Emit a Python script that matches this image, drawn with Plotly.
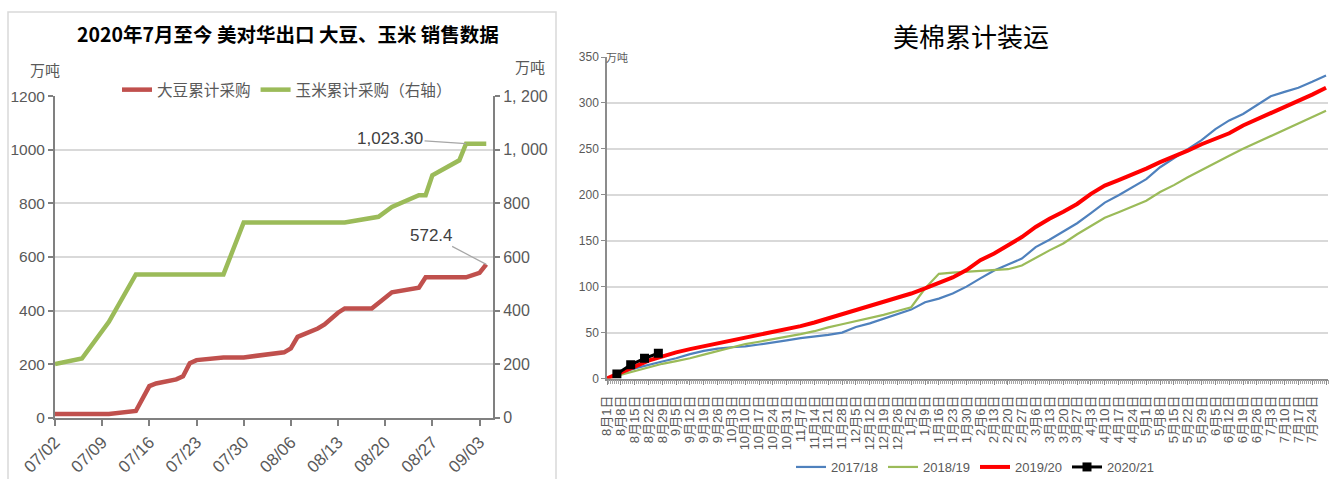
import datetime as dt
import plotly.graph_objects as go

# ---------------- Left panel: US soybean / corn sales to China since July 2020 ----------------
soy_dates = ["2020-07-02", "2020-07-10", "2020-07-14", "2020-07-16", "2020-07-17", "2020-07-20",
             "2020-07-21", "2020-07-22", "2020-07-23", "2020-07-27", "2020-07-30", "2020-08-05",
             "2020-08-06", "2020-08-07", "2020-08-10", "2020-08-11", "2020-08-13", "2020-08-14",
             "2020-08-18", "2020-08-21", "2020-08-25", "2020-08-26", "2020-09-01", "2020-09-03",
             "2020-09-04"]
soy_values = [13.7, 13.7, 25, 118, 128, 143, 155, 203, 215, 225, 225, 244, 259, 302, 333, 348,
              392, 408, 408, 468, 485, 524, 524, 541, 572.4]

corn_dates = ["2020-07-02", "2020-07-06", "2020-07-10", "2020-07-14", "2020-07-27", "2020-07-30",
              "2020-08-14", "2020-08-19", "2020-08-21", "2020-08-25", "2020-08-26", "2020-08-27",
              "2020-08-31", "2020-09-01", "2020-09-04"]
corn_values = [200, 221, 358, 535, 535, 729, 729, 750, 787, 831, 831, 905, 961, 1023.3, 1023.3]

left_ticks = [0, 200, 400, 600, 800, 1000, 1200]
left_tick_text = ["0", "200", "400", "600", "800", "1000", "1200"]
right_tick_text = ["0", "200", "400", "600", "800", "1, 000", "1, 200"]

# ---------------- Right panel: cumulative US cotton shipments (weekly, Aug 1 -> Jul 31) ----------------
week_dates = [dt.date(2018, 8, 1) + dt.timedelta(days=7 * k) for k in range(53)]

ship_1718 = [0, 6, 11, 15, 18.5, 22, 26.5, 30, 32.5, 34, 35, 37, 39, 41.5, 44, 45.5, 47.5, 50,
             56, 60, 65, 70.5, 75, 83, 87, 92.5, 100, 109, 117.5, 124, 130.5, 143, 151, 160,
             169, 180, 191.5, 199.5, 208.5, 217, 230, 240, 249.5, 259.5, 271.5, 281, 288,
             297.5, 307.2, 312, 316.5, 323, 329.9]
ship_1819 = [0, 4, 7.8, 12, 16, 19, 22, 26, 30, 34, 37.5, 40, 42.5, 45, 48.3, 51.5, 55.7, 59,
             62.4, 65.6, 69.3, 73.5, 77.6, 98, 114, 115.2, 116, 117, 117.6, 119, 123, 131.5,
             139.5, 147, 157, 166, 175, 181, 187, 193.5, 203, 210.5, 219, 227, 235, 242.5, 250,
             257, 263.5, 270.5, 278, 285, 291.5]
ship_1920 = [0, 7, 13, 19.5, 24.5, 28.5, 32, 35, 38, 41.5, 45, 48, 51, 54, 57, 61, 65.5, 69.5,
             74, 78.5, 83.5, 88, 92.5, 98, 104, 110, 118, 128.8, 136, 144.5, 154, 165, 174,
             181.5, 190, 201, 210, 216, 222, 228.5, 235.5, 241.5, 248, 255, 261, 267, 275.5,
             282, 288.5, 296, 302.5, 309, 316.5]
# 2020/21 season so far (weeks ending Aug 6, 13, 20, 27), placed on the same Aug-Jul axis
ship_2021_dates = [dt.date(2018, 8, 6), dt.date(2018, 8, 13), dt.date(2018, 8, 20), dt.date(2018, 8, 27)]
ship_2021 = [5, 15, 22, 27.5]

# ---------------- layout helpers (figure pixels -> paper fraction, zero margins) ----------------
W, H = 1330, 479


def px(x):
    return x / W


def py(y):
    return 1 - y / H


GRID = "#d9d9d9"
AXIS = "#808080"
TXT = "#595959"
NUM_FONT = "Liberation Sans, Noto Sans CJK SC"
CJK_FONT = "Noto Sans CJK SC"
DAY_MS = 86400000


def label(text, x, y, size, color=TXT, family=CJK_FONT):
    return dict(text=text, x=px(x), y=py(y), xref="paper", yref="paper", showarrow=False,
                xanchor="center", yanchor="middle",
                font=dict(family=family, size=size, color=color))


fig = go.Figure()

# left panel traces
fig.add_trace(go.Scatter(x=soy_dates, y=soy_values, mode="lines", name="大豆累计采购",
                         line=dict(color="#C0504D", width=4.5), xaxis="x", yaxis="y",
                         legend="legend"))
fig.add_trace(go.Scatter(x=corn_dates, y=corn_values, mode="lines", name="玉米累计采购（右轴）",
                         line=dict(color="#9BBB59", width=4.5), xaxis="x", yaxis="y2",
                         legend="legend"))

# right panel traces
fig.add_trace(go.Scatter(x=week_dates, y=ship_1718, mode="lines", name="2017/18",
                         line=dict(color="#4F81BD", width=2.2), xaxis="x2", yaxis="y3",
                         legend="legend2"))
fig.add_trace(go.Scatter(x=week_dates, y=ship_1819, mode="lines", name="2018/19",
                         line=dict(color="#9BBB59", width=2.2), xaxis="x2", yaxis="y3",
                         legend="legend2"))
fig.add_trace(go.Scatter(x=week_dates, y=ship_1920, mode="lines", name="2019/20",
                         line=dict(color="#FF0000", width=4), xaxis="x2", yaxis="y3",
                         legend="legend2"))
fig.add_trace(go.Scatter(x=ship_2021_dates, y=ship_2021, mode="lines+markers", name="2020/21",
                         line=dict(color="#000000", width=3),
                         marker=dict(symbol="square", size=9, color="#000000"),
                         xaxis="x2", yaxis="y3", legend="legend2"))

annotations = [
    label("<b>2020年7月至今 美对华出口 大豆、玉米 销售数据</b>", 288, 33, 19.5, "#000000"),
    label("万吨", 45, 70, 15),
    label("万吨", 530, 66, 15),
    label("美棉累计装运", 971, 36, 26, "#000000"),
    label("万吨", 617, 57, 11),
    # value call-outs on the last points
    dict(text=f"{corn_values[13]:,.2f}", x=corn_dates[13], y=corn_values[13], xref="x", yref="y2",
         showarrow=True, arrowhead=0, arrowwidth=1.2, arrowcolor="#a6a6a6", ax=-76, ay=-5,
         font=dict(family=NUM_FONT, size=17, color="#404040")),
    dict(text=f"{soy_values[-1]:.1f}", x=soy_dates[-1], y=soy_values[-1], xref="x", yref="y",
         showarrow=True, arrowhead=0, arrowwidth=1.2, arrowcolor="#a6a6a6", ax=-55, ay=-29,
         font=dict(family=NUM_FONT, size=17, color="#404040")),
]

shapes = [
    dict(type="rect", xref="paper", yref="paper", x0=px(8), x1=px(556), y0=py(484), y1=py(12),
         line=dict(color="#d9d9d9", width=1.5), fillcolor="rgba(0,0,0,0)", layer="below"),
]

fig.update_layout(
    width=W, height=H,
    margin=dict(l=0, r=0, t=0, b=0, autoexpand=False),
    paper_bgcolor="white", plot_bgcolor="white",
    annotations=annotations, shapes=shapes,
    xaxis=dict(domain=[px(55), px(493)], anchor="y", type="date", automargin=False,
               range=["2020-07-02", "2020-09-05"], tick0="2020-07-02", dtick=7 * DAY_MS,
               tickformat="%m/%d", tickangle=-45, ticks="outside", ticklen=6, tickwidth=1.5,
               tickcolor=AXIS, showline=True, linecolor=AXIS, linewidth=2, showgrid=False,
               tickfont=dict(family=NUM_FONT, size=17, color=TXT)),
    yaxis=dict(domain=[py(417.7), py(96.3)], anchor="x", range=[0, 1200], automargin=False,
               tickvals=left_ticks, ticktext=left_tick_text, ticks="outside", ticklen=5,
               tickwidth=1.5, tickcolor=AXIS, showline=True, linecolor=AXIS, linewidth=2,
               gridcolor=GRID, gridwidth=2, zeroline=False,
               tickfont=dict(family=NUM_FONT, size=15.5, color=TXT)),
    yaxis2=dict(overlaying="y", anchor="x", side="right", range=[0, 1200], automargin=False,
                tickvals=left_ticks, ticktext=right_tick_text, ticks="outside", ticklen=5,
                tickwidth=1.5, tickcolor=AXIS, showline=True, linecolor=AXIS, linewidth=2,
                showgrid=False, zeroline=False,
                tickfont=dict(family=NUM_FONT, size=16, color=TXT)),
    xaxis2=dict(domain=[px(607), px(1328)], anchor="y3", type="date", automargin=False,
                range=["2018-08-01", "2019-08-01"], tick0="2018-08-01", dtick=7 * DAY_MS,
                tickformat="%-m月%-d日", tickangle=-90, ticks="outside", ticklen=5,
                ticklabelstandoff=5,
                tickcolor="#8c8c8c", showline=True, linecolor="#8c8c8c", linewidth=1.5,
                showgrid=False,
                minor=dict(dtick=DAY_MS, ticks="outside", ticklen=4, tickcolor="#a6a6a6",
                           tickwidth=1, showgrid=False),
                tickfont=dict(family="Liberation Sans, Noto Sans CJK SC", size=13, color=TXT)),
    yaxis3=dict(domain=[py(378.5), py(57)], anchor="x2", range=[0, 350], dtick=50,
                automargin=False,
                ticks="outside", ticklen=4, tickcolor="#8c8c8c", showline=True,
                linecolor="#8c8c8c", linewidth=1.5, gridcolor=GRID, gridwidth=1.5,
                zeroline=False,
                tickfont=dict(family="Liberation Sans", size=12, color=TXT)),
    legend=dict(orientation="h", x=px(117), y=py(90), xanchor="left", yanchor="middle",
                bgcolor="rgba(0,0,0,0)", font=dict(family=CJK_FONT, size=15.6, color=TXT),
                itemwidth=30, tracegroupgap=0),
    legend2=dict(orientation="h", x=px(975), y=py(467), xanchor="center", yanchor="middle",
                 bgcolor="rgba(0,0,0,0)", font=dict(family="Liberation Sans", size=13, color=TXT),
                 itemwidth=30),
)

fig.write_html("out.html")
